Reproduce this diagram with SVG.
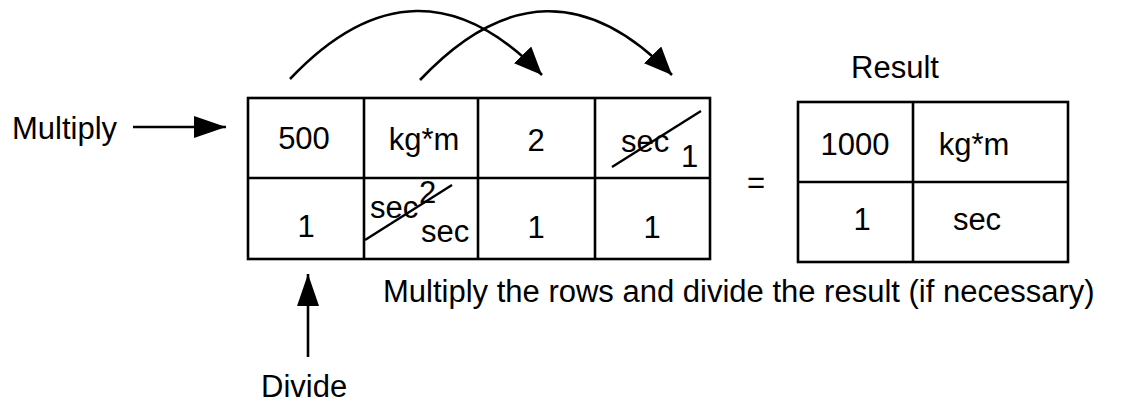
<svg xmlns="http://www.w3.org/2000/svg" width="1128" height="410" viewBox="0 0 1128 410">
<style>
  text { font-family: "Liberation Sans", Arial, sans-serif; font-size: 31px; fill: #000; }
  .c { text-anchor: middle; }
  .grid { fill: none; stroke: #000; stroke-width: 2.6; }
  .wire { fill: none; stroke: #000; stroke-width: 2.6; }
  .strike { stroke: #000; stroke-width: 2.4; }
</style>
<defs>
  <marker id="ah" viewBox="0 0 28 24" refX="28" refY="12" markerWidth="28" markerHeight="24" markerUnits="userSpaceOnUse" orient="auto">
    <path d="M0,0 L28,12 L0,24 z" fill="#000"/>
  </marker>
  <marker id="ahs" viewBox="0 0 32 22" refX="32" refY="11" markerWidth="32" markerHeight="22" markerUnits="userSpaceOnUse" orient="auto">
    <path d="M0,0 L32,11 L0,22 z" fill="#000"/>
  </marker>
</defs>
<rect width="1128" height="410" fill="#fff"/>

<g id="connectors">
  <path class="wire" d="M290,79 Q417,-55 542,75" marker-end="url(#ah)"/>
  <path class="wire" d="M420,80 Q547,-55 672,75" marker-end="url(#ah)"/>
  <path class="wire" d="M133,127 L226,127" marker-end="url(#ahs)"/>
  <path class="wire" d="M308,357 L308,274" marker-end="url(#ahs)"/>
</g>

<g id="multiply-label"><text x="12" y="139">Multiply</text></g>
<g id="divide-label"><text x="261" y="397">Divide</text></g>

<g id="main-table">
  <rect class="grid" x="248" y="98" width="462" height="161"/>
  <line class="grid" x1="248" y1="178" x2="710" y2="178"/>
  <line class="grid" x1="364" y1="98" x2="364" y2="259"/>
  <line class="grid" x1="478" y1="98" x2="478" y2="259"/>
  <line class="grid" x1="595" y1="98" x2="595" y2="259"/>
  <text class="c" x="304" y="149">500</text>
  <text class="c" x="424" y="150">kg*m</text>
  <text class="c" x="536" y="151">2</text>
  <text x="621" y="152">sec</text>
  <text x="681" y="167" font-size="28">1</text>
  <line class="strike" x1="612" y1="167" x2="701" y2="111"/>
  <text class="c" x="306" y="237">1</text>
  <text x="370" y="218" font-size="27">sec</text>
  <text x="419" y="203" font-size="25">2</text>
  <line class="strike" x1="365" y1="240" x2="452" y2="185"/>
  <text x="421" y="242" font-size="27">sec</text>
  <text class="c" x="536" y="238">1</text>
  <text class="c" x="652" y="238">1</text>
</g>

<g id="equals"><text class="c" x="756" y="193">=</text></g>

<g id="result-table">
  <text class="c" x="895" y="78">Result</text>
  <rect class="grid" x="798" y="102" width="270" height="160"/>
  <line class="grid" x1="798" y1="182" x2="1068" y2="182"/>
  <line class="grid" x1="913" y1="102" x2="913" y2="262"/>
  <text class="c" x="855" y="155">1000</text>
  <text class="c" x="974" y="155">kg*m</text>
  <text class="c" x="862" y="230">1</text>
  <text class="c" x="977" y="230">sec</text>
</g>

<g id="note"><text x="383" y="302">Multiply the rows and divide the result (if necessary)</text></g>
</svg>
